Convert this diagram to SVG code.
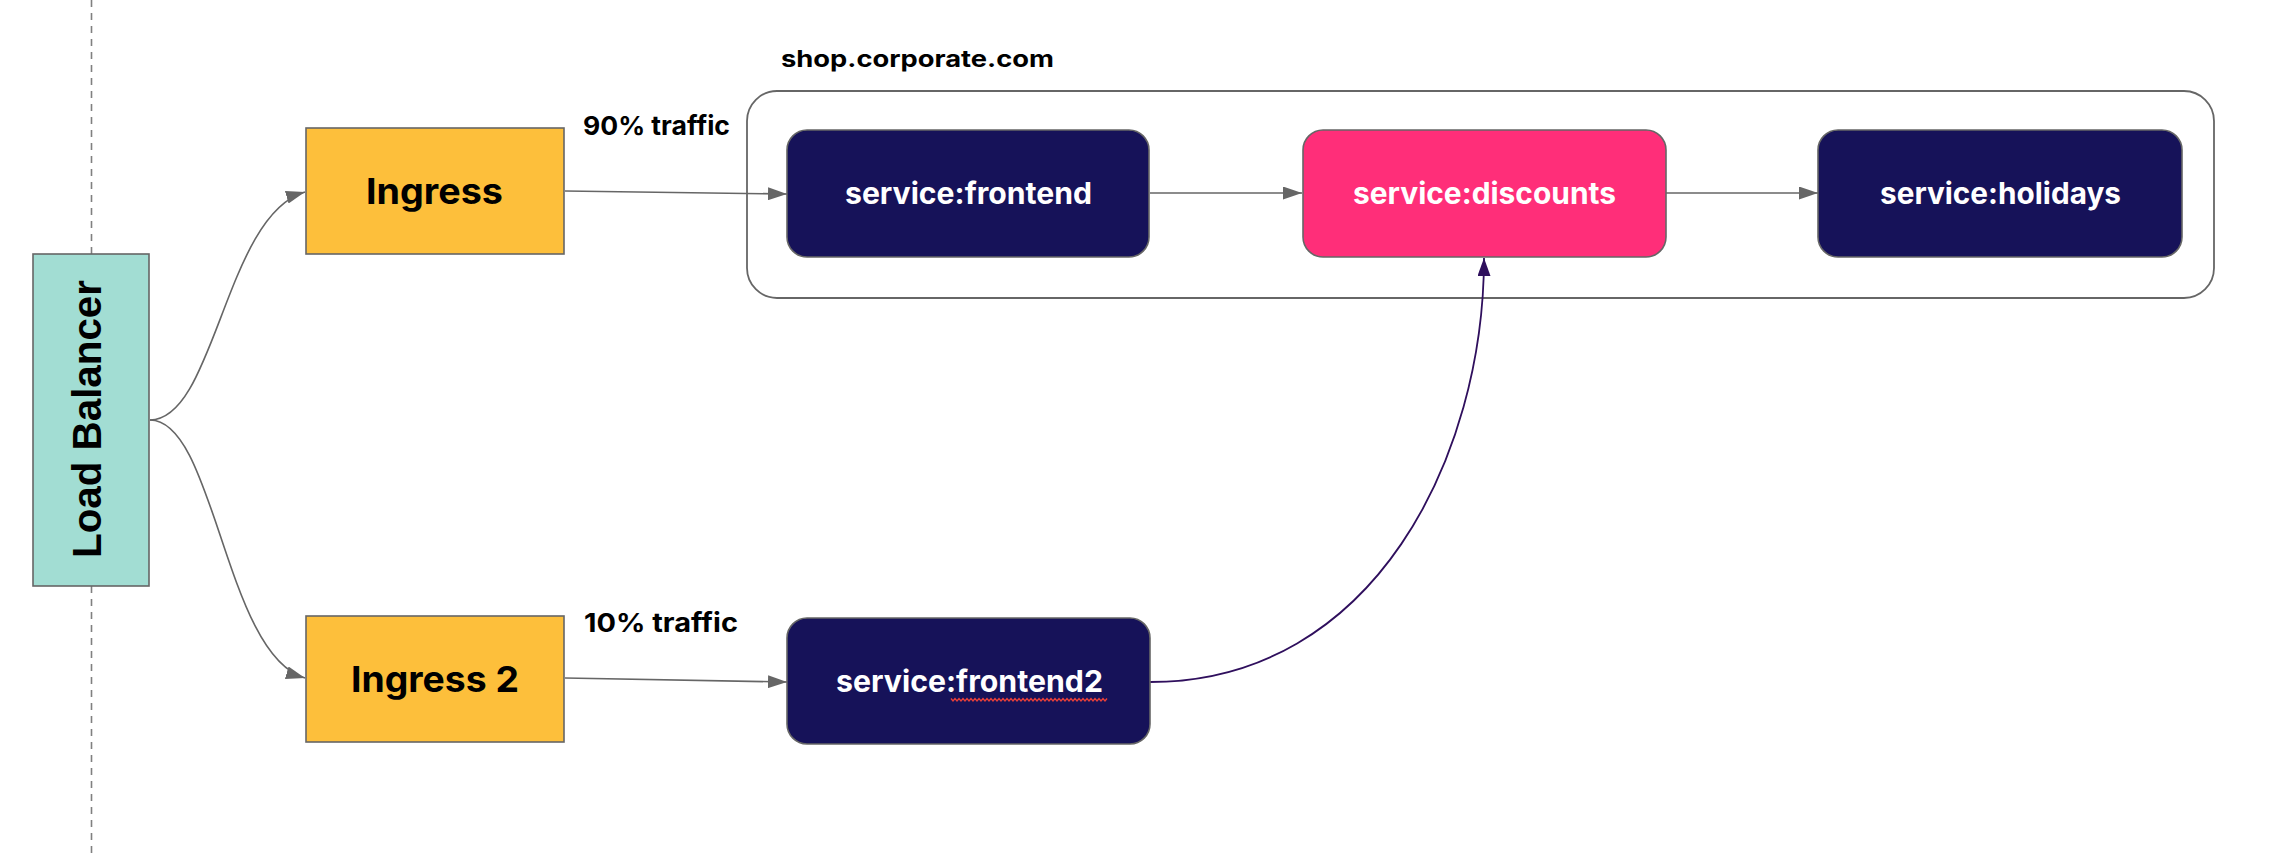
<svg xmlns="http://www.w3.org/2000/svg" width="2282" height="858" viewBox="0 0 2282 858">
<style>
.lbl{font-family:Inter,"Liberation Sans",sans-serif;font-weight:700;fill:#000}
.svc{font-family:Inter,"Liberation Sans",sans-serif;font-weight:700;font-size:30px;fill:#fff}
.ing{fill:#fdbf3b;stroke:#666;stroke-width:1.6}
.navy{fill:#161259;stroke:#666;stroke-width:1.6}
.pink{fill:#ff2e79;stroke:#666;stroke-width:1.6}
.edge{fill:none;stroke:#666;stroke-width:1.6}
.pedge{fill:none;stroke:#2f0f5d;stroke-width:1.8}
</style>
<defs>
<marker id="ah" markerUnits="userSpaceOnUse" viewBox="0 0 19 13" refX="19" refY="6.5" markerWidth="19" markerHeight="13" orient="auto">
<path d="M0 0 L19 6.5 L0 13 Z" fill="#666"/>
</marker>
<marker id="ahp" markerUnits="userSpaceOnUse" viewBox="0 0 18 13" refX="18" refY="6.5" markerWidth="18" markerHeight="13" orient="auto">
<path d="M0 0 L18 6.5 L0 13 Z" fill="#2f0f5d"/>
</marker>
</defs>
<rect width="2282" height="858" fill="#fff"/>
<g id="divider">
<line x1="91.5" y1="0" x2="91.5" y2="254" stroke="#808080" stroke-width="1.6" stroke-dasharray="7 6"/>
<line x1="91.5" y1="586" x2="91.5" y2="858" stroke="#808080" stroke-width="1.6" stroke-dasharray="7 6"/>
</g>
<g id="group-shop">
<rect x="747" y="91" width="1467" height="207" rx="30" fill="none" stroke="#666" stroke-width="1.8"/>
<text class="lbl" x="781" y="67" font-size="23" textLength="273" lengthAdjust="spacingAndGlyphs">shop.corporate.com</text>
</g>
<g id="connectors">
<path class="edge" d="M150 420 C215 420 225 215 305 192" marker-end="url(#ah)"/>
<path class="edge" d="M150 420 C215 420 225 655 305 678" marker-end="url(#ah)"/>
<path class="edge" d="M565 191 L787 194" marker-end="url(#ah)"/>
<path class="edge" d="M565 678 L787 682" marker-end="url(#ah)"/>
<path class="edge" d="M1150 193 L1302 193" marker-end="url(#ah)"/>
<path class="edge" d="M1666 193 L1818 193" marker-end="url(#ah)"/>
<path class="pedge" d="M1150 682 C1375 682 1484 455 1484 258" marker-end="url(#ahp)"/>
<text class="lbl" x="583" y="135" font-size="26" textLength="147" lengthAdjust="spacingAndGlyphs">90% traffic</text>
<text class="lbl" x="584" y="632" font-size="26" textLength="154" lengthAdjust="spacingAndGlyphs">10% traffic</text>
</g>
<g id="load-balancer">
<rect x="33" y="254" width="116" height="332" fill="#a2ddd3" stroke="#666" stroke-width="1.6"/>
<text x="0" y="0" transform="translate(101 558) rotate(-90)" font-family="'Liberation Sans',Arial,sans-serif" font-weight="700" font-size="40" textLength="278" lengthAdjust="spacingAndGlyphs" fill="#000">Load Balancer</text>
</g>
<g id="ingress">
<rect class="ing" x="306" y="128" width="258" height="126"/>
<text class="lbl" x="366" y="204" font-size="36" textLength="137" lengthAdjust="spacingAndGlyphs">Ingress</text>
</g>
<g id="ingress2">
<rect class="ing" x="306" y="616" width="258" height="126"/>
<text class="lbl" x="351" y="692" font-size="36" textLength="168" lengthAdjust="spacingAndGlyphs">Ingress 2</text>
</g>
<g id="frontend">
<rect class="navy" x="787" y="130" width="362" height="127" rx="20"/>
<text class="svc" x="845" y="204" textLength="247" lengthAdjust="spacingAndGlyphs">service:frontend</text>
</g>
<g id="discounts">
<rect class="pink" x="1303" y="130" width="363" height="127" rx="20"/>
<text class="svc" x="1353" y="204" textLength="263" lengthAdjust="spacingAndGlyphs">service:discounts</text>
</g>
<g id="holidays">
<rect class="navy" x="1818" y="130" width="364" height="127" rx="20"/>
<text class="svc" x="1880" y="204" textLength="241" lengthAdjust="spacingAndGlyphs">service:holidays</text>
</g>
<g id="frontend2">
<rect class="navy" x="787" y="618" width="363" height="126" rx="20"/>
<text class="svc" x="836" y="692" textLength="267" lengthAdjust="spacingAndGlyphs">service:frontend2</text>
<path d="M951 698.5 l2 2.5 l2 -2.5 l2 2.5 l2 -2.5 l2 2.5 l2 -2.5 l2 2.5 l2 -2.5 l2 2.5 l2 -2.5 l2 2.5 l2 -2.5 l2 2.5 l2 -2.5 l2 2.5 l2 -2.5 l2 2.5 l2 -2.5 l2 2.5 l2 -2.5 l2 2.5 l2 -2.5 l2 2.5 l2 -2.5 l2 2.5 l2 -2.5 l2 2.5 l2 -2.5 l2 2.5 l2 -2.5 l2 2.5 l2 -2.5 l2 2.5 l2 -2.5 l2 2.5 l2 -2.5 l2 2.5 l2 -2.5 l2 2.5 l2 -2.5 l2 2.5 l2 -2.5 l2 2.5 l2 -2.5 l2 2.5 l2 -2.5 l2 2.5 l2 -2.5 l2 2.5 l2 -2.5 l2 2.5 l2 -2.5 l2 2.5 l2 -2.5 l2 2.5 l2 -2.5 l2 2.5 l2 -2.5 l2 2.5 l2 -2.5 l2 2.5 l2 -2.5 l2 2.5 l2 -2.5 l2 2.5 l2 -2.5 l2 2.5 l2 -2.5 l2 2.5 l2 -2.5 l2 2.5 l2 -2.5 l2 2.5 l2 -2.5 l2 2.5 l2 -2.5 l2 2.5 l2 -2.5" fill="none" stroke="#e8403a" stroke-width="1.4"/>
</g>
</svg>
